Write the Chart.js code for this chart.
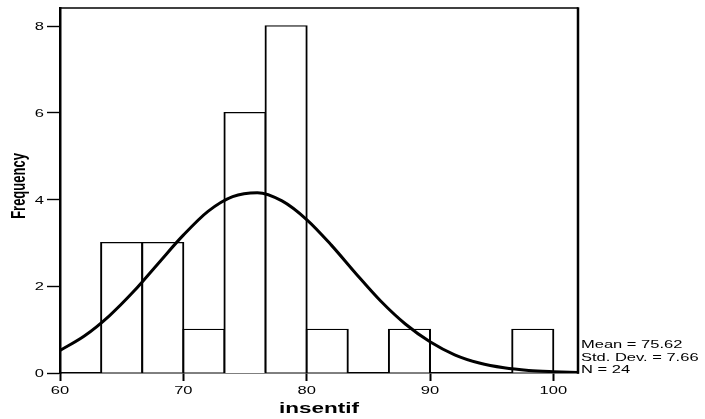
<!DOCTYPE html>
<html>
<head>
<meta charset="utf-8">
<script src="https://cdn.jsdelivr.net/npm/chart.js@4.4.1/dist/chart.umd.min.js"></script>
<style>
  html, body { margin: 0; padding: 0; background: #fff; }
  canvas { display: block; }
</style>
</head>
<body>
<canvas id="histChart" width="705" height="419"></canvas>
<script>
// --- Data ---
const binCenters = [65, 68.333, 71.667, 75, 78.333, 81.667, 85, 88.333, 91.667, 95, 98.333];
const frequencies = [3, 3, 1, 6, 8, 1, 0, 1, 0, 0, 1];

// normal curve
const curveX = [60, 62, 64, 66, 68, 70, 72, 74, 76, 78, 80, 82, 84, 86, 88, 90, 92, 94, 96, 98, 100, 102];
const curveY = [0.52, 0.86, 1.32, 1.89, 2.54, 3.18, 3.73, 4.07, 4.16, 3.97, 3.54, 2.95, 2.29, 1.66, 1.13, 0.72, 0.42, 0.23, 0.12, 0.06, 0.03, 0.01];

const xTicks = [60, 70, 80, 90, 100];
const yTicks = [0, 2, 4, 6, 8];
const xTitle = 'insentif';
const yTitle = 'Frequency';
const statsLines = ['Mean = 75.62', 'Std. Dev. = 7.66', 'N = 24'];

const FONT = "'Liberation Sans', Arial, sans-serif";
const SX = 1.5; // the original output is stretched sideways

function stretchedText(ctx, text, x, y, font, align, angle) {
  ctx.save();
  ctx.translate(x, y);
  ctx.scale(SX, 1);
  if (angle) ctx.rotate(angle);
  ctx.font = font;
  ctx.textAlign = align;
  ctx.textBaseline = 'alphabetic';
  ctx.fillStyle = '#000';
  ctx.fillText(text, 0, 0);
  ctx.restore();
}

// frame + all the text
const spssDecor = {
  id: 'spssDecor',
  afterDraw(chart) {
    const ctx = chart.ctx;
    const area = chart.chartArea;
    const xs = chart.scales.x;
    const ys = chart.scales.y;

    ctx.save();
    ctx.strokeStyle = '#000';
    ctx.lineWidth = 1.5;
    ctx.beginPath();
    ctx.moveTo(area.left, area.top);
    ctx.lineTo(area.right, area.top);
    ctx.stroke();
    ctx.lineWidth = 2.5;
    ctx.beginPath();
    ctx.moveTo(area.right, area.top - 0.75);
    ctx.lineTo(area.right, area.bottom + 0.75);
    ctx.stroke();
    ctx.restore();

    xs.ticks.forEach(t => {
      stretchedText(ctx, String(t.value), xs.getPixelForValue(t.value), area.bottom + 21, '11px ' + FONT, 'center');
    });
    ys.ticks.forEach(t => {
      stretchedText(ctx, String(t.value), area.left - 16, ys.getPixelForValue(t.value) + 4, '11px ' + FONT, 'right');
    });

    stretchedText(ctx, xTitle, (area.left + area.right) / 2, 413, 'bold 15px ' + FONT, 'center');
    stretchedText(ctx, yTitle, 25, 186, 'bold 13px ' + FONT, 'center', -Math.PI / 2);

    statsLines.forEach((line, i) => {
      stretchedText(ctx, line, area.right + 3, 348 + i * 12.7, '11px ' + FONT, 'left');
    });
  }
};

const ctx = document.getElementById('histChart').getContext('2d');

new Chart(ctx, {
  type: 'bar',
  data: {
    datasets: [
      {
        type: 'line',
        data: curveX.map((x, i) => ({ x: x, y: curveY[i] })),
        borderColor: '#000',
        borderWidth: 3,
        pointRadius: 0,
        cubicInterpolationMode: 'monotone',
        fill: false,
        order: 1
      },
      {
        type: 'bar',
        data: binCenters.map((x, i) => ({ x: x, y: frequencies[i] })),
        backgroundColor: '#fff',
        borderColor: '#000',
        borderWidth: { left: 2, right: 2, top: 1.4, bottom: 0 },
        inflateAmount: 1,
        barPercentage: 1,
        categoryPercentage: 1,
        order: 2
      }
    ]
  },
  options: {
    responsive: false,
    devicePixelRatio: 1,
    animation: false,
    layout: { padding: { left: 0, top: 8, right: 127, bottom: 0 } },
    plugins: {
      legend: { display: false },
      tooltip: { enabled: false }
    },
    scales: {
      x: {
        type: 'linear',
        min: 60,
        max: 102,
        offset: false,
        z: 1,
        afterBuildTicks: (scale) => { scale.ticks = xTicks.map(v => ({ value: v })); },
        afterFit: (scale) => { scale.height = 46; },
        ticks: { display: false },
        grid: {
          offset: false,
          drawOnChartArea: false,
          drawTicks: true,
          tickLength: 8,
          tickWidth: 2,
          tickColor: '#000'
        },
        border: { display: true, color: '#000', width: 1.5 }
      },
      y: {
        type: 'linear',
        min: 0,
        max: 8.42,
        z: 1,
        afterBuildTicks: (scale) => { scale.ticks = yTicks.map(v => ({ value: v })); },
        afterFit: (scale) => { scale.width = 60; },
        ticks: { display: false },
        grid: {
          drawOnChartArea: false,
          drawTicks: true,
          tickLength: 13,
          tickWidth: 1.4,
          tickColor: '#000'
        },
        border: { display: true, color: '#000', width: 2.5 }
      }
    }
  },
  plugins: [spssDecor]
});
</script>
</body>
</html>
